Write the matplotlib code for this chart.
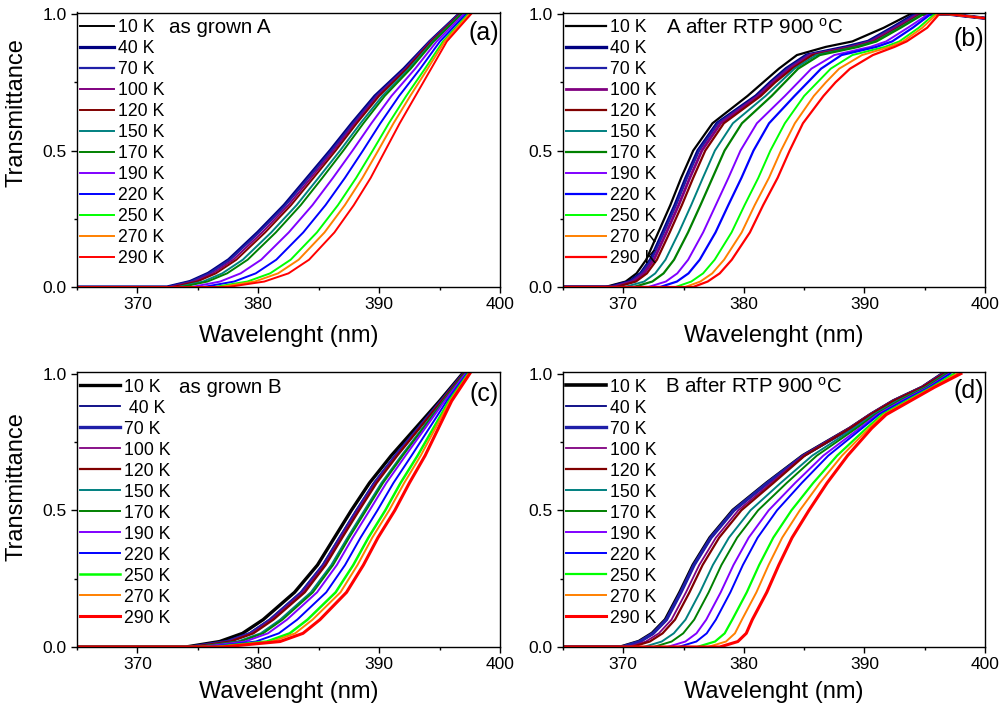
import matplotlib
matplotlib.use('Agg')
import matplotlib.pyplot as plt
from matplotlib.ticker import MultipleLocator, FormatStrFormatter

plt.rcParams['font.family'] = ['Liberation Sans', 'DejaVu Sans']
plt.rcParams['mathtext.fontset'] = 'custom'
plt.rcParams['mathtext.rm'] = 'Liberation Sans'
plt.rcParams['mathtext.it'] = 'Liberation Sans:italic'

# ---------------- data ----------------
TEMPS = ['10 K', '40 K', '70 K', '100 K', '120 K', '150 K', '170 K',
         '190 K', '220 K', '250 K', '270 K', '290 K']
COLORS = ['#000000', '#000080', '#1F1FA8', '#800080', '#800000', '#008080',
          '#008000', '#8000FF', '#0000FF', '#00FF00', '#FF8000', '#FF0000']
START_WL = 365.0

# Panel (a): wavelength (nm) at which each curve crosses the given transmittance level
LEV_A = [0.0, 0.02, 0.05, 0.1, 0.2, 0.3, 0.4, 0.5, 0.6, 0.7, 0.8, 0.9, 1.0]
a_10 = [372.5, 374.4, 375.9, 377.6, 380.0, 382.2, 384.1, 386.0, 387.8, 389.7, 392.1, 394.2, 396.6]
a_40 = [372.45, 374.35, 375.85, 377.55, 379.95, 382.15, 384.05, 385.95, 387.75, 389.65, 392.05, 394.2, 396.6]
a_70 = [372.55, 374.45, 375.95, 377.65, 380.05, 382.25, 384.15, 386.05, 387.85, 389.75, 392.15, 394.2, 396.6]
a_100 = [372.75, 374.7, 376.23, 377.93, 380.32, 382.49, 384.36, 386.23, 388.0, 389.87, 392.21, 394.27, 396.65]
a_120 = [372.95, 374.95, 376.49, 378.19, 380.57, 382.71, 384.57, 386.41, 388.15, 390.0, 392.3, 394.33, 396.69]
a_150 = [373.35, 375.44, 377.02, 378.72, 381.07, 383.17, 384.98, 386.77, 388.46, 390.26, 392.47, 394.44, 396.77]
a_170 = [373.65, 375.8, 377.42, 379.12, 381.45, 383.51, 385.3, 387.04, 388.7, 390.46, 392.61, 394.52, 396.83]
a_190 = [374.5, 376.84, 378.54, 380.24, 382.52, 384.48, 386.18, 387.8, 389.36, 391.02, 392.98, 394.76, 397.0]
a_220 = [375.45, 378.0, 379.79, 381.49, 383.72, 385.56, 387.17, 388.66, 390.1, 391.65, 393.4, 395.03, 397.19]
a_250 = [376.35, 379.1, 380.98, 382.68, 384.85, 386.59, 388.1, 389.47, 390.8, 392.24, 393.79, 395.28, 397.37]
a_270 = [376.85, 379.71, 381.64, 383.34, 385.48, 387.16, 388.62, 389.92, 391.19, 392.57, 394.01, 395.42, 397.47]
a_290 = [377.5, 380.5, 382.5, 384.2, 386.3, 387.9, 389.3, 390.5, 391.7, 393.0, 394.3, 395.6, 397.6]

# Panel (b)
LEV_B = [0.0, 0.02, 0.05, 0.1, 0.2, 0.3, 0.4, 0.5, 0.6, 0.7, 0.75, 0.8, 0.85, 0.88, 0.9, 0.95, 1.0]
b_10 = [368.5, 370.2, 371.1, 371.9, 372.9, 373.9, 374.8, 375.8, 377.4, 380.3, 381.6, 382.9, 384.4, 386.8, 389.0, 391.6, 393.8]
b_40 = [368.87, 370.54, 371.45, 372.26, 373.28, 374.29, 375.2, 376.2, 377.78, 381.0, 382.2, 383.5, 385.2, 388.5, 390.3, 392.3, 394.2]
b_70 = [368.94, 370.61, 371.51, 372.33, 373.36, 374.36, 375.28, 376.28, 377.85, 381.1, 382.3, 383.6, 385.3, 388.7, 390.4, 392.4, 394.3]
b_100 = [369.16, 370.81, 371.72, 372.54, 373.58, 374.59, 375.52, 376.52, 378.08, 381.2, 382.4, 383.8, 385.5, 389.0, 390.6, 392.6, 394.5]
b_120 = [369.41, 371.05, 371.96, 372.79, 373.85, 374.86, 375.8, 376.8, 378.34, 381.4, 382.6, 384.0, 385.7, 389.2, 390.8, 392.8, 394.7]
b_150 = [370.14, 371.73, 372.65, 373.5, 374.61, 375.63, 376.6, 377.6, 379.09, 381.8, 383.0, 384.2, 386.0, 389.3, 390.9, 392.9, 394.8]
b_170 = [370.87, 372.41, 373.34, 374.21, 375.37, 376.4, 377.4, 378.4, 379.84, 382.3, 383.4, 384.5, 386.3, 389.5, 391.0, 393.0, 394.9]
b_190 = [372.08, 373.53, 374.48, 375.38, 376.62, 377.67, 378.72, 379.72, 381.08, 383.4, 384.5, 385.6, 387.5, 390.5, 391.8, 393.6, 395.3]
b_220 = [373.06, 374.45, 375.41, 376.34, 377.65, 378.71, 379.8, 380.8, 382.09, 384.2, 385.3, 386.4, 388.1, 391.0, 392.3, 394.0, 395.5]
b_250 = [374.34, 375.64, 376.62, 377.58, 378.98, 380.06, 381.2, 382.2, 383.4, 385.0, 386.1, 387.2, 389.0, 391.7, 392.9, 394.5, 395.8]
b_270 = [375.14, 376.39, 377.38, 378.36, 379.82, 380.9, 382.08, 383.08, 384.23, 385.8, 386.8, 387.9, 389.8, 392.1, 393.2, 394.8, 396.0]
b_290 = [375.8, 377.0, 378.0, 379.0, 380.5, 381.6, 382.8, 383.8, 384.9, 386.6, 387.6, 388.8, 390.7, 392.5, 393.5, 395.2, 396.2]
B_TAIL_WL = [397.0, 398.0, 399.0, 400.0]
B_TAIL_T = [1.0, 0.995, 0.99, 0.985]

# Panel (c)
LEV_C = [0.0, 0.02, 0.05, 0.1, 0.2, 0.3, 0.4, 0.5, 0.6, 0.7, 0.8, 0.9, 1.0]
c_10 = [374.0, 376.8, 378.7, 380.4, 383.0, 384.9, 386.3, 387.7, 389.2, 391.0, 393.0, 395.0, 396.9]
c_40 = [374.33, 377.35, 379.25, 380.92, 383.5, 385.32, 386.7, 388.1, 389.56, 391.31, 393.21, 395.11, 396.97]
c_70 = [374.39, 377.45, 379.35, 381.01, 383.6, 385.39, 386.77, 388.17, 389.63, 391.36, 393.25, 395.13, 396.98]
c_100 = [374.45, 377.55, 379.45, 381.11, 383.7, 385.47, 386.84, 388.24, 389.7, 391.42, 393.29, 395.15, 396.99]
c_120 = [374.54, 377.7, 379.6, 381.25, 383.85, 385.58, 386.95, 388.35, 389.79, 391.5, 393.34, 395.18, 397.01]
c_150 = [374.9, 378.3, 380.2, 381.81, 384.35, 386.04, 387.38, 388.78, 390.19, 391.84, 393.57, 395.3, 397.08]
c_170 = [375.02, 378.5, 380.4, 382.0, 384.52, 386.19, 387.52, 388.92, 390.32, 391.95, 393.65, 395.34, 397.1]
c_190 = [375.26, 378.9, 380.8, 382.37, 384.86, 386.5, 387.81, 389.21, 390.59, 392.18, 393.8, 395.42, 397.15]
c_220 = [375.8, 379.8, 381.7, 383.22, 385.62, 387.18, 388.46, 389.86, 391.18, 392.68, 394.14, 395.6, 397.26]
c_250 = [376.34, 380.7, 382.6, 384.07, 386.4, 387.86, 389.11, 390.51, 391.77, 393.18, 394.48, 395.78, 397.37]
c_270 = [376.61, 381.15, 383.05, 384.49, 386.8, 388.21, 389.43, 390.83, 392.07, 393.44, 394.65, 395.87, 397.42]
c_290 = [377.0, 381.8, 383.7, 385.1, 387.3, 388.7, 389.9, 391.3, 392.5, 393.8, 394.9, 396.0, 397.5]

# Panel (d)
LEV_D = [0.0, 0.02, 0.05, 0.1, 0.2, 0.3, 0.4, 0.5, 0.6, 0.7, 0.8, 0.85, 0.9, 0.95, 1.0]
d_10 = [369.8, 371.3, 372.4, 373.5, 374.7, 375.8, 377.2, 379.1, 381.9, 384.9, 388.8, 390.5, 392.4, 394.8, 396.5]
d_40 = [369.84, 371.34, 372.44, 373.54, 374.74, 375.84, 377.23, 379.13, 381.93, 384.92, 388.81, 390.51, 392.41, 394.8, 396.5]
d_70 = [369.88, 371.38, 372.48, 373.58, 374.78, 375.87, 377.27, 379.17, 381.95, 384.94, 388.82, 390.52, 392.41, 394.81, 396.51]
d_100 = [370.37, 371.87, 372.95, 374.0, 375.2, 376.3, 377.68, 379.54, 382.25, 384.95, 388.7, 390.4, 392.3, 394.7, 396.5]
d_120 = [370.7, 372.2, 373.26, 374.29, 375.49, 376.58, 377.95, 379.79, 382.45, 385.05, 388.8, 390.5, 392.4, 394.8, 396.6]
d_150 = [371.69, 373.19, 374.19, 375.16, 376.36, 377.43, 378.76, 380.55, 383.05, 385.67, 389.14, 390.75, 392.72, 395.03, 396.75]
d_170 = [372.51, 374.01, 374.97, 375.88, 377.08, 378.14, 379.44, 381.18, 383.55, 386.05, 389.33, 390.9, 392.86, 395.13, 396.86]
d_190 = [373.65, 375.15, 376.07, 376.88, 378.08, 379.14, 380.4, 382.06, 384.25, 386.59, 389.59, 391.05, 393.06, 395.27, 397.02]
d_220 = [374.56, 376.06, 376.92, 377.68, 378.88, 379.92, 381.14, 382.75, 384.8, 387.0, 389.8, 391.2, 393.21, 395.38, 397.14]
d_250 = [376.11, 377.61, 378.41, 379.04, 380.24, 381.27, 382.44, 383.95, 385.75, 387.73, 390.16, 391.46, 393.48, 395.57, 397.45]
d_270 = [377.02, 378.52, 379.26, 379.84, 381.04, 382.05, 383.18, 384.64, 386.3, 388.14, 390.37, 391.62, 393.63, 395.68, 397.7]
d_290 = [378.0, 379.5, 380.2, 380.7, 381.9, 382.9, 384.0, 385.4, 386.9, 388.6, 390.6, 391.8, 393.8, 395.8, 398.0]

LABELS_C = ['10 K', ' 40 K', '70 K', '100 K', '120 K', '150 K', '170 K',
            '190 K', '220 K', '250 K', '270 K', '290 K']

# ---------------- figure ----------------
W, H = 1003, 713
fig = plt.figure(figsize=(W / 100, H / 100), dpi=100)


def rect(left, top, right, bottom):
    return [left / W, 1 - bottom / H, (right - left) / W, (bottom - top) / H]


panels = [
    dict(rect=rect(77, 12.5, 500, 287), lev=LEV_A,
         curves=[a_10, a_40, a_70, a_100, a_120, a_150, a_170, a_190, a_220, a_250, a_270, a_290],
         lw=[1.4, 2.3, 1.6, 1.4, 1.4, 1.4, 1.4, 1.4, 1.4, 1.4, 1.4, 1.4],
         labels=TEMPS, note='as grown A', note_x=0.2175, tag='(a)', tag_y=0.925,
         hl=1.95, ylabel=0.637, tail=None, xlab_pad=9),
    dict(rect=rect(563, 12.5, 985, 287), lev=LEV_B,
         curves=[b_10, b_40, b_70, b_100, b_120, b_150, b_170, b_190, b_220, b_250, b_270, b_290],
         lw=[1.6, 2.4, 1.6, 2.0, 1.6, 1.4, 1.6, 1.4, 1.6, 1.4, 1.4, 1.6],
         labels=TEMPS, note='A after RTP 900 $^{\\mathrm{o}}$C', note_x=0.244, tag='(b)', tag_y=0.905,
         hl=2.3, ylabel=None, tail=(B_TAIL_WL, B_TAIL_T), xlab_pad=9),
    dict(rect=rect(77, 372, 500, 647), lev=LEV_C,
         curves=[c_10, c_40, c_70, c_100, c_120, c_150, c_170, c_190, c_220, c_250, c_270, c_290],
         lw=[2.4, 1.3, 2.4, 1.3, 1.6, 1.4, 1.4, 1.4, 1.4, 1.8, 1.4, 2.2],
         labels=LABELS_C, note='as grown B', note_x=0.241, tag='(c)', tag_y=0.92,
         hl=2.3, ylabel=0.585, tail=None, xlab_pad=6),
    dict(rect=rect(563, 372, 985, 647), lev=LEV_D,
         curves=[d_10, d_40, d_70, d_100, d_120, d_150, d_170, d_190, d_220, d_250, d_270, d_290],
         lw=[2.6, 1.3, 2.4, 1.3, 1.6, 1.4, 1.4, 1.4, 1.4, 1.6, 1.4, 2.2],
         labels=TEMPS, note='B after RTP 900 $^{\\mathrm{o}}$C', note_x=0.242, tag='(d)', tag_y=0.93,
         hl=2.3, ylabel=None, tail=None, xlab_pad=6),
]

for p in panels:
    ax = fig.add_axes(p['rect'])
    for wl, lw, col, lab in zip(p['curves'], p['lw'], COLORS, p['labels']):
        xs = [START_WL] + list(wl)
        ys = [0.0] + list(p['lev'])
        if p['tail'] is not None:
            xs += list(p['tail'][0])
            ys += list(p['tail'][1])
        ax.plot(xs, ys, color=col, lw=lw, label=lab, solid_joinstyle='round')
    ax.set_xlim(365, 400)
    ax.set_ylim(0, 1.006)
    ax.xaxis.set_major_locator(MultipleLocator(10))
    ax.xaxis.set_minor_locator(MultipleLocator(5))
    ax.yaxis.set_major_locator(MultipleLocator(0.5))
    ax.yaxis.set_minor_locator(MultipleLocator(0.25))
    ax.yaxis.set_major_formatter(FormatStrFormatter('%.1f'))
    ax.tick_params(which='both', direction='out', top=False, right=False,
                   labelsize=12.5, width=1.0, colors='black')
    ax.tick_params(which='major', length=4.5, pad=3)
    ax.tick_params(which='minor', length=2.5)
    for s in ax.spines.values():
        s.set_linewidth(1.0)
    ax.set_xlabel('Wavelenght (nm)', fontsize=17, labelpad=p['xlab_pad'])
    if p['ylabel'] is not None:
        ax.set_ylabel('Transmittance', fontsize=17)
        ax.yaxis.set_label_coords(-0.117, p['ylabel'])
    ax.legend(loc='upper left', bbox_to_anchor=(-0.0095, 1.0), frameon=False,
              fontsize=12.7, labelspacing=0.227, handlelength=p['hl'],
              handletextpad=0.22, borderpad=0.37, borderaxespad=0.0)
    ax.text(p['note_x'], 0.945, p['note'], transform=ax.transAxes, fontsize=14.8,
            ha='left', va='center')
    ax.text(0.997, p['tag_y'], p['tag'], transform=ax.transAxes, fontsize=18,
            ha='right', va='center')

fig.savefig('out.png', dpi=100)
